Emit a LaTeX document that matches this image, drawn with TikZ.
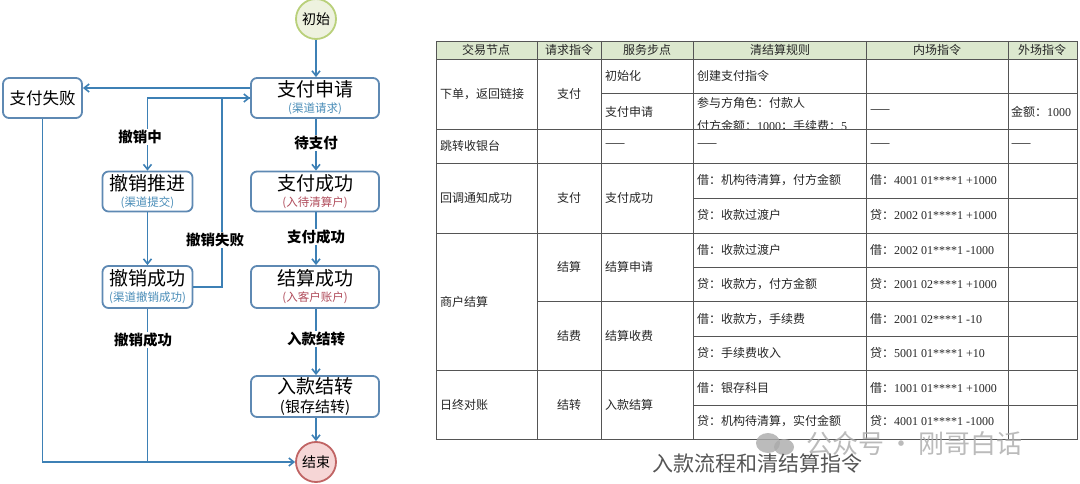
\documentclass[tikz,border=0pt]{standalone}
\usepackage{fontspec}
\setmainfont{Liberation Serif}
\newfontfamily\cjk{Noto Sans CJK SC}
\newfontfamily\ser{Liberation Serif}
\usetikzlibrary{arrows.meta,calc}
\definecolor{boxline}{HTML}{5E89B3}
\definecolor{arrowc}{HTML}{3D80B5}
\definecolor{subblue}{HTML}{4A8DB8}
\definecolor{subred}{HTML}{B04B5A}
\definecolor{startfill}{HTML}{EEF2DF}
\definecolor{startline}{HTML}{B9D07A}
\definecolor{endfill}{HTML}{F6D6D6}
\definecolor{endline}{HTML}{C06464}
\definecolor{hdr}{HTML}{DCE8CE}
\definecolor{gridc}{HTML}{555555}
\definecolor{capc}{HTML}{555555}
\definecolor{wmc}{HTML}{AAAAAA}
\newcommand{\boxtitle}[1]{{\fontsize{19}{21}\selectfont\cjk #1}}
\newcommand{\boxsub}[2]{{\fontsize{11.5}{13}\selectfont\cjk\color{#1}#2}}
\tikzset{
  fbox/.style={draw=boxline, line width=1.8pt, rounded corners=6pt, fill=white,
    minimum width=128pt, minimum height=40pt, inner sep=0pt, align=center},
  sbox/.style={fbox, minimum width=90pt},
  conn/.style={draw=arrowc, line width=1.6pt},
  arr/.style={conn, -{Straight Barb[length=5pt,width=8pt]}},
  elab/.style={fill=white, inner sep=1pt, font=\fontsize{14.5}{16}\selectfont\cjk\bfseries},
  tc/.style={inner sep=0pt, font=\fontsize{12}{14}\selectfont\cjk, text=black!85},
  tl/.style={tc, anchor=west},
  grid/.style={draw=gridc, line width=0.9pt},
}
\begin{document}
\begin{tikzpicture}[x=1pt,y=-1pt]
\useasboundingbox (0,0) rectangle (1080,484);
% ---------------- flowchart ----------------
\node[circle, draw=startline, fill=startfill, line width=1.8pt, minimum size=40pt, inner sep=0pt,
  font=\fontsize{14}{16}\selectfont\cjk] (start) at (316,19) {初始};
\node[fbox] (pay) at (315,98) {\boxtitle{支付申请}\\[4pt]\boxsub{subblue}{(渠道请求)}};
\node[fbox, minimum width=79pt, font=\fontsize{16.5}{18}\selectfont\cjk] (fail) at (42.5,98) {支付失败};
\node[sbox] (push) at (147.5,191.5) {\boxtitle{撤销推进}\\[4pt]\boxsub{subblue}{(渠道提交)}};
\node[fbox] (psucc) at (315,191.5) {\boxtitle{支付成功}\\[4pt]\boxsub{subred}{(入待清算户)}};
\node[sbox, minimum height=42pt] (csucc) at (147.5,287) {\boxtitle{撤销成功}\\[4pt]\boxsub{subblue}{(渠道撤销成功)}};
\node[fbox, minimum height=42pt] (ssucc) at (315,287) {\boxtitle{结算成功}\\[4pt]\boxsub{subred}{(入客户账户)}};
\node[fbox, minimum height=41pt] (xfer) at (315,396.5) {\boxtitle{入款结转}\\[3pt]{\fontsize{15}{17}\selectfont\cjk (银存结转)}};
\node[circle, draw=endline, fill=endfill, line width=1.8pt, minimum size=40pt, inner sep=0pt,
  font=\fontsize{14}{16}\selectfont\cjk] (end) at (316,462) {结束};
\coordinate (loop) at (222,98);
\draw[arr] (start) -- (start|-pay.north);
\draw[arr] ($(pay.west)+(0,-10)$) -- ($(fail.east)+(0,-10)$);
\draw[arr] (pay.west) -| (push.north);
\draw[arr] (csucc.east) -| (loop) -- (pay.west);
\draw[arr] (push) -- (csucc);
\draw[conn] (csucc.south) -- (csucc.south|-end.west);
\draw[arr] (fail.south) |- (end.west);
\draw[arr] (pay.south-|start) -- (psucc.north-|start);
\draw[arr] (psucc.south-|start) -- (ssucc.north-|start);
\draw[arr] (ssucc.south-|start) -- (xfer.north-|start);
\draw[arr] (xfer.south-|start) -- (end);
\node[elab] (l1) at (140,137) {撤销中};
\node[elab] (l2) at (215,240) {撤销失败};
\node[elab] (l3) at (143,340) {撤销成功};
\node[elab] (l4) at (316,143) {待支付};
\node[elab] (l5) at (316,237) {支付成功};
\node[elab] (l6) at (316,339) {入款结转};
% ---------------- table ----------------
\fill[hdr] (436,41) rectangle (1077,59);
\draw[grid] (436,41) rectangle (1077,439);
\foreach \x in {537,601,693,866,1008} \draw[grid] (\x,41) -- (\x,439);
\foreach \y in {59,129,163,233,370} \draw[grid] (436,\y) -- (1077,\y);
\draw[grid] (601,93) -- (1077,93);
\foreach \y in {198,267,336,405} \draw[grid] (693,\y) -- (1077,\y);
\draw[grid] (537,301) -- (1077,301);
% header
\node[tc] (h1) at (486,50) {交易节点};
\node[tc] (h2) at (569,50) {请求指令};
\node[tc] (h3) at (647,50) {服务步点};
\node[tc] (h4) at (780,50) {清结算规则};
\node[tc] (h5) at (937,50) {内场指令};
\node[tc] (h6) at (1042,50) {外场指令};
% row 1
\node[tl] (a1) at (440,94) {下单，返回链接};
\node[tc] (a2) at (569,94) {支付};
\node[tl] (a3) at (605,76) {初始化};
\node[tl] (a4) at (605,112) {支付申请};
\node[tl] (a5) at (697,76) {创建支付指令};
\node[tl] (a6) at (697,103) {参与方角色：付款人};
\begin{scope}
\clip (693,93) rectangle (866,129);
\node[tl] (a7) at (697,126) {付方金额：{\ser 1000}；手续费：{\ser 5}};
\end{scope}
\node[tl] (a8) at (870,112) {——};
\node[tl] (a9) at (1011,112) {金额：{\ser 1000}};
% row 2
\node[tl] (b1) at (440,146) {跳转收银台};
\node[tl] (b3) at (605,146) {——};
\node[tl] (b4) at (697,146) {——};
\node[tl] (b5) at (870,146) {——};
\node[tl] (b6) at (1011,146) {——};
% row 3
\node[tl] (c1) at (440,198) {回调通知成功};
\node[tc] (c2) at (569,198) {支付};
\node[tl] (c3) at (605,198) {支付成功};
\node[tl] (c4) at (697,180) {借：机构待清算，付方金额};
\node[tl] (c5) at (697,215) {贷：收款过渡户};
\node[tl] (c6) at (870,180) {借：{\ser 4001 01****1 +1000}};
\node[tl] (c7) at (870,215) {贷：{\ser 2002 01****1 +1000}};
% row 4
\node[tl] (d1) at (440,302) {商户结算};
\node[tc] (d2) at (569,267) {结算};
\node[tl] (d3) at (605,267) {结算申请};
\node[tl] (d4) at (697,250) {借：收款过渡户};
\node[tl] (d5) at (697,284) {贷：收款方，付方金额};
\node[tl] (d6) at (870,250) {借：{\ser 2002 01****1 -1000}};
\node[tl] (d7) at (870,284) {贷：{\ser 2001 02****1 +1000}};
\node[tc] (d8) at (569,336) {结费};
\node[tl] (d9) at (605,336) {结算收费};
\node[tl] (d10) at (697,319) {借：收款方，手续费};
\node[tl] (d11) at (697,353) {贷：手续费收入};
\node[tl] (d12) at (870,319) {借：{\ser 2001 02****1 -10}};
\node[tl] (d13) at (870,353) {贷：{\ser 5001 01****1 +10}};
% row 5
\node[tl] (e1) at (440,405) {日终对账};
\node[tc] (e2) at (569,405) {结转};
\node[tl] (e3) at (605,405) {入款结算};
\node[tl] (e4) at (697,388) {借：银存科目};
\node[tl] (e5) at (697,421) {贷：机构待清算，实付金额};
\node[tl] (e6) at (870,388) {借：{\ser 1001 01****1 +1000}};
\node[tl] (e7) at (870,421) {贷：{\ser 4001 01****1 -1000}};
% watermark and caption
\fill[wmc, opacity=0.8] (768,443) ellipse (12pt and 10pt);
\fill[wmc, opacity=0.8] (784,447) ellipse (10pt and 8pt);
\node[inner sep=0pt, text=wmc, opacity=0.8, font=\fontsize{26}{28}\selectfont\cjk, anchor=west] (wm) at (806,444) {公众号\,·\,刚哥白话};
\node[inner sep=0pt, text=capc, font=\fontsize{21}{24}\selectfont\cjk] (cap) at (757,464) {入款流程和清结算指令};
\end{tikzpicture}
\end{document}
